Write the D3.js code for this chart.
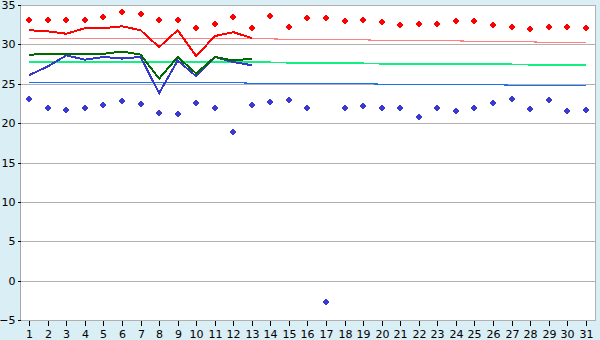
<!DOCTYPE html>
<html>
<head>
<meta charset="utf-8">
<title>Temperatures</title>
<style>
	body { margin: 0; background: #d9eef5; }
	svg { display: block; }
	.tick text { font-family: "DejaVu Sans", sans-serif; font-size: 11px; fill: #000; }
</style>
</head>
<body>
<script src="https://cdn.jsdelivr.net/npm/d3@7"></script>
<script>
	var days = [1,2,3,4,5,6,7,8,9,10,11,12,13,14,15,16,17,18,19,20,21,22,23,24,25,26,27,28,29,30,31];
	var yTicks = [-5,0,5,10,15,20,25,30,35];

	// daily max / min (markers)
	var maxT = [33.1,33.1,33.1,33.1,33.5,34.1,33.8,33.1,33.1,32.1,32.6,33.5,32.1,33.6,32.2,33.3,
		33.3,33.0,33.1,32.8,32.5,32.6,32.6,33.0,33.0,32.4,32.2,32.0,32.2,32.2,32.1];
	var minT = [23.1,21.9,21.7,21.9,22.3,22.8,22.4,21.3,21.1,22.6,21.9,18.9,22.3,22.7,23.0,21.9,
		-2.7,21.9,22.2,21.9,21.9,20.8,21.9,21.6,21.9,22.6,23.1,21.8,23.0,21.6,21.7];

	// observed lines, days 1-13
	var redLine = [31.8,31.65,31.35,32.05,32.05,32.3,31.8,29.65,31.8,28.5,31.05,31.55,30.8];
	var greenLine = [28.7,28.75,28.8,28.8,28.8,29.1,28.7,25.65,28.4,26.3,28.4,27.95,28.2];
	var blueLine = [26.1,27.2,28.6,28.05,28.4,28.2,28.4,23.8,27.95,25.95,28.4,27.75,27.35];

	// normals
	var normMax = [30.72,30.72,30.72,30.72,30.72,30.72,30.72,30.72,30.72,30.72,30.72,30.72,30.72,30.72,
		30.6,30.6,30.6,30.6,30.6,30.47,30.47,30.47,30.47,30.47,30.34,30.34,30.34,30.34,30.2,30.2,30.2];
	var normAvg = [27.75,27.75,27.75,27.75,27.75,27.75,27.75,27.75,27.75,27.75,27.75,27.75,27.75,27.75,
		27.63,27.63,27.63,27.63,27.63,27.5,27.5,27.5,27.5,27.5,27.5,27.5,27.5,27.38,27.38,27.38,27.38];
	var normMin = [25.18,25.18,25.18,25.18,25.18,25.18,25.18,25.18,25.18,25.18,25.18,25.18,
		25.05,25.05,25.05,25.05,25.05,25.05,25.05,24.93,24.93,24.93,24.93,24.93,24.93,24.93,
		24.8,24.8,24.8,24.8,24.8];

	var w = 600, h = 340,
		pLeft = 20, pRight = 595, pTop = 5, pBottom = 320;

	var svg = d3.select("body").append("svg")
			.attr("width", w)
			.attr("height", h);

	var x = d3.scaleBand().domain(days).range([pLeft, pRight]);
	var y = d3.scaleLinear().domain([-5, 35]).range([pBottom, pTop]);
	function cx(d) { return x(d) + x.bandwidth() / 2; }
	function py(v) { return Math.round(y(v)) + 0.5; }

	svg.append("rect")
		.attr("x", pLeft).attr("y", pTop)
		.attr("width", pRight - pLeft).attr("height", pBottom - pTop)
		.attr("fill", "#fff");

	// grid
	svg.append("g").selectAll("line")
		.data(yTicks)
		.enter().append("line")
			.attr("x1", pLeft).attr("x2", pRight)
			.attr("y1", py).attr("y2", py)
			.attr("stroke", "#b0b0b0")
			.attr("shape-rendering", "crispEdges");
	svg.append("line")
		.attr("x1", pLeft + 0.5).attr("x2", pLeft + 0.5)
		.attr("y1", pTop).attr("y2", pBottom + 1)
		.attr("stroke", "#a8a8a8").attr("shape-rendering", "crispEdges");
	svg.append("line")
		.attr("x1", pRight + 0.5).attr("x2", pRight + 0.5)
		.attr("y1", pTop).attr("y2", pBottom + 1)
		.attr("stroke", "#b0b0b0").attr("shape-rendering", "crispEdges");

	// axes
	var yAxis = svg.append("g")
		.attr("transform", "translate(" + (pLeft + 0.5) + ",0.5)")
		.call(d3.axisLeft(y).tickValues(yTicks).tickSize(3).tickPadding(2));
	var xAxis = svg.append("g")
		.attr("transform", "translate(0," + (pBottom + 0.5) + ")")
		.call(d3.axisBottom(x).tickSize(5).tickPadding(5));
	yAxis.select(".domain").remove();
	xAxis.select(".domain").remove();
	svg.selectAll(".tick line").attr("stroke", "#000").attr("shape-rendering", "crispEdges");
	yAxis.selectAll(".tick").attr("transform", function(d) { return "translate(0," + Math.round(y(d)) + ")"; });
	xAxis.selectAll(".tick").attr("transform", function(d) { return "translate(" + (Math.round(cx(d)) + 0.5) + ",0)"; });

	function drawLine(vals, color, width) {
		var line = d3.line()
			.x(function(v, i) { return cx(days[i]); })
			.y(function(v) { return y(v); });
		svg.append("path")
			.datum(vals)
			.attr("d", line)
			.attr("fill", "none")
			.attr("stroke", color)
			.attr("stroke-width", width)
			.attr("shape-rendering", "crispEdges");
	}

	drawLine(normMin, "#1a72f0", 1.2);
	drawLine(normAvg, "#10f080", 1.2);
	drawLine(normMax, "#ff8080", 1.2);
	drawLine(redLine, "#ff0000", 2);
	drawLine(blueLine, "#3838c8", 2);
	drawLine(greenLine, "#006a00", 2);

	// little plus / diamond markers
	var mark = "M-1,-3h2v1h1v1h1v2h-1v1h-1v1h-2v-1h-1v-1h-1v-2h1v-1h1z";
	function drawMarks(vals, color) {
		svg.append("g").selectAll("path")
			.data(vals)
			.enter().append("path")
				.attr("d", mark)
				.attr("transform", function(v, i) {
					return "translate(" + Math.round(cx(days[i])) + "," + Math.round(y(v)) + ")";
				})
				.attr("fill", color)
				.attr("shape-rendering", "crispEdges");
	}
	drawMarks(maxT, "#ff0000");
	drawMarks(minT, "#3a3ad0");
</script>
</body>
</html>
